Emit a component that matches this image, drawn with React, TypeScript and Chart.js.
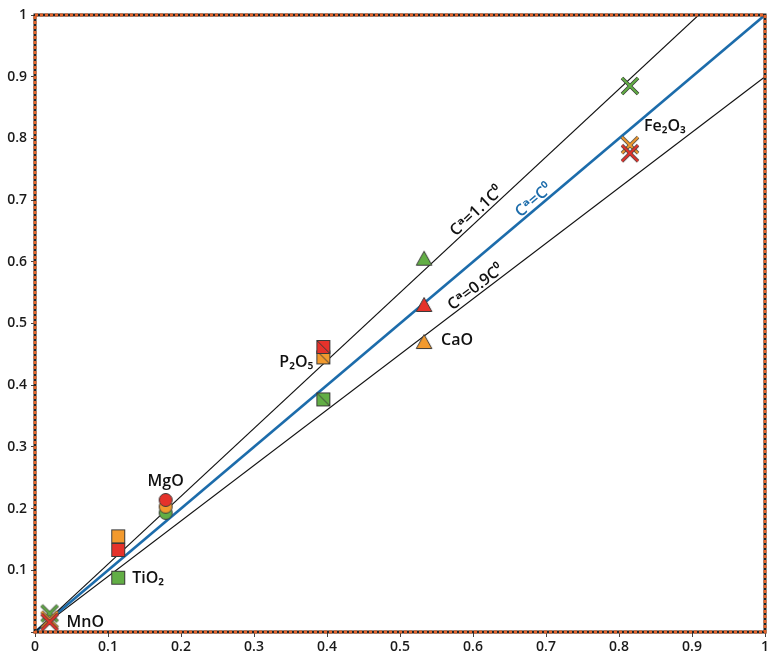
import React, { useEffect, useRef } from 'react';
import { Chart, registerables } from 'chart.js';
Chart.register(...registerables);

// ---- data ----
const categories = ['MnO', 'TiO₂', 'MgO', 'P₂O₅', 'CaO', 'Fe₂O₃'];
const markerKinds = ['cross', 'square', 'circle', 'slashSquare', 'triangle', 'cross'];
const originalValues = [0.02, 0.114, 0.179, 0.395, 0.533, 0.815];
const greenValues = [0.03, 0.088, 0.193, 0.377, 0.605, 0.885];
const orangeValues = [0.02, 0.155, 0.203, 0.445, 0.47, 0.789];
const redValues = [0.016, 0.133, 0.214, 0.462, 0.53, 0.776];
const ratios = [1.1, 1.0, 0.9];
const ratioLabels = ['Cᵃ=1.1C⁰', 'Cᵃ=C⁰', 'Cᵃ=0.9C⁰'];
const ratioLabelAt = [0.612, 0.69, 0.61];
const tickValues = [0, 0.1, 0.2, 0.3, 0.4, 0.5, 0.6, 0.7, 0.8, 0.9, 1];

const GREEN = '#62ae45';
const ORANGE = '#f29a2e';
const RED = '#e5322b';
const EDGE = '#3a3a3a';
const BLUE = '#1c6cab';
const FONT = '"Open Sans", "DejaVu Sans", sans-serif';

function makeMarker(kind: string, color: string): HTMLCanvasElement {
  const c = document.createElement('canvas');
  const S = 20;
  c.width = S;
  c.height = S;
  const g = c.getContext('2d')!;
  const m = S / 2;
  g.lineWidth = 1;
  g.strokeStyle = EDGE;
  g.fillStyle = color;
  if (kind === 'square' || kind === 'slashSquare') {
    const h = 6.5;
    g.fillRect(m - h, m - h, 2 * h, 2 * h);
    g.strokeRect(m - h, m - h, 2 * h, 2 * h);
    if (kind === 'slashSquare') {
      g.beginPath();
      g.moveTo(m - h, m - h);
      g.lineTo(m + h, m + h);
      g.stroke();
    }
  } else if (kind === 'circle') {
    g.beginPath();
    g.arc(m, m, 6.5, 0, Math.PI * 2);
    g.fill();
    g.stroke();
  } else if (kind === 'triangle') {
    g.beginPath();
    g.moveTo(m, m - 7.5);
    g.lineTo(m + 7.8, m + 6.5);
    g.lineTo(m - 7.8, m + 6.5);
    g.closePath();
    g.fill();
    g.stroke();
  } else {
    const h = 8;
    g.lineCap = 'butt';
    g.beginPath();
    g.moveTo(m - h, m - h);
    g.lineTo(m + h, m + h);
    g.moveTo(m + h, m - h);
    g.lineTo(m - h, m + h);
    g.lineWidth = 3.6;
    g.strokeStyle = EDGE;
    g.stroke();
    g.lineWidth = 2.2;
    g.strokeStyle = color;
    g.stroke();
  }
  return c;
}

const fmt = (v: number) => String(Number(v.toFixed(1)));

const labelLayout = [
  { dx: 17, dyFrom: 'red', dy: 0, align: 'left' },
  { dx: 14, dyFrom: 'green', dy: 1, align: 'left' },
  { dx: 0, dyFrom: 'red', dy: -19, align: 'center' },
  { dx: -10, dyFrom: 'orange', dy: 5, align: 'right' },
  { dx: 17, dyFrom: 'orange', dy: -2, align: 'left' },
  { dx: 14, dyFrom: 'green', dy: 40, align: 'left' },
];

const annotate = {
  id: 'annotate',
  afterDatasetsDraw(chart: any) {
    const { ctx, chartArea: a, scales } = chart;
    const xs = scales.x;
    const ys = scales.y;
    ctx.save();
    // border
    ctx.strokeStyle = '#222';
    ctx.lineWidth = 3;
    ctx.strokeRect(a.left, a.top, a.right - a.left, a.bottom - a.top);
    ctx.strokeStyle = '#e2622a';
    ctx.setLineDash([3, 2]);
    ctx.strokeRect(a.left, a.top, a.right - a.left, a.bottom - a.top);
    ctx.setLineDash([]);

    // ratio line labels
    ratios.forEach((r, i) => {
      const dxv = ratioLabelAt[i];
      const px = xs.getPixelForValue(dxv);
      const py = ys.getPixelForValue(dxv * r);
      const p2x = xs.getPixelForValue(dxv + 0.1);
      const p2y = ys.getPixelForValue((dxv + 0.1) * r);
      const ang = Math.atan2(p2y - py, p2x - px);
      ctx.save();
      ctx.translate(px, py);
      ctx.rotate(ang);
      ctx.font = `600 16px ${FONT}`;
      ctx.fillStyle = r === 1 ? BLUE : '#111';
      ctx.textAlign = 'center';
      ctx.textBaseline = 'alphabetic';
      ctx.fillText(ratioLabels[i], 0, -3);
      ctx.restore();
    });

    // category labels
    ctx.font = `600 16px ${FONT}`;
    ctx.fillStyle = '#111';
    ctx.textBaseline = 'middle';
    categories.forEach((name, i) => {
      const L = labelLayout[i];
      const src = L.dyFrom === 'red' ? redValues : L.dyFrom === 'green' ? greenValues : orangeValues;
      const px = xs.getPixelForValue(originalValues[i]) + L.dx;
      const py = ys.getPixelForValue(src[i]) + L.dy;
      ctx.textAlign = L.align;
      ctx.fillText(name, px, py);
    });
    ctx.restore();
  },
};

export default function App() {
  const ref = useRef<HTMLCanvasElement | null>(null);
  useEffect(() => {
    if (!ref.current) return;
    const mk = (vals: number[], color: string, order: number, label: string) => ({
      type: 'scatter' as const,
      label,
      data: originalValues.map((x, i) => ({ x, y: vals[i] })),
      pointStyle: markerKinds.map((k) => makeMarker(k, color)),
      pointRadius: 8,
      showLine: false,
      order,
    });
    const lineSets = ratios.map((r) => ({
      type: 'scatter' as const,
      label: 'ratio ' + r,
      data: [
        { x: 0, y: 0 },
        { x: Math.min(1, 1 / r), y: Math.min(1, r) },
      ],
      showLine: true,
      borderColor: r === 1 ? BLUE : '#111',
      borderWidth: r === 1 ? 2.6 : 1.1,
      pointRadius: 0,
      order: 10,
    }));
    const chart = new Chart(ref.current, {
      type: 'scatter',
      data: {
        datasets: [
          ...lineSets,
          mk(greenValues, GREEN, 3, 'green'),
          mk(orangeValues, ORANGE, 2, 'orange'),
          mk(redValues, RED, 1, 'red'),
        ] as any,
      },
      options: {
        animation: false,
        responsive: true,
        maintainAspectRatio: false,
        layout: { autoPadding: false, padding: { top: 15, right: 4, left: 0, bottom: 0 } },
        plugins: { legend: { display: false }, tooltip: { enabled: false } },
        scales: {
          x: {
            type: 'linear',
            min: 0,
            max: 1,
            afterBuildTicks: (s: any) => {
              s.ticks = tickValues.map((v) => ({ value: v }));
            },
            afterFit: (s: any) => {
              s.height = 22;
              s.paddingLeft = 0;
              s.paddingRight = 0;
            },
            ticks: {
              callback: (v: any) => fmt(Number(v)),
              font: { family: FONT, size: 14, weight: '600' },
              color: '#1a1a1a',
              padding: 2,
              maxRotation: 0,
            },
            grid: { drawOnChartArea: false, tickLength: 5, color: '#444' },
            border: { display: false },
          },
          y: {
            type: 'linear',
            min: 0,
            max: 1,
            afterBuildTicks: (s: any) => {
              s.ticks = tickValues.map((v) => ({ value: v }));
            },
            afterFit: (s: any) => {
              s.width = 35;
              s.paddingTop = 0;
              s.paddingBottom = 0;
            },
            ticks: {
              callback: (v: any) => (Number(v) === 0 ? '' : fmt(Number(v))),
              font: { family: FONT, size: 14, weight: '600' },
              color: '#1a1a1a',
              padding: 4,
            },
            grid: { drawOnChartArea: false, tickLength: 4, color: '#444' },
            border: { display: false },
          },
        },
      },
      plugins: [annotate],
    });
    return () => chart.destroy();
  }, []);
  return (
    <div style={{ position: 'absolute', left: 0, top: 0, width: 769, height: 654 }}>
      <canvas ref={ref} />
    </div>
  );
}
